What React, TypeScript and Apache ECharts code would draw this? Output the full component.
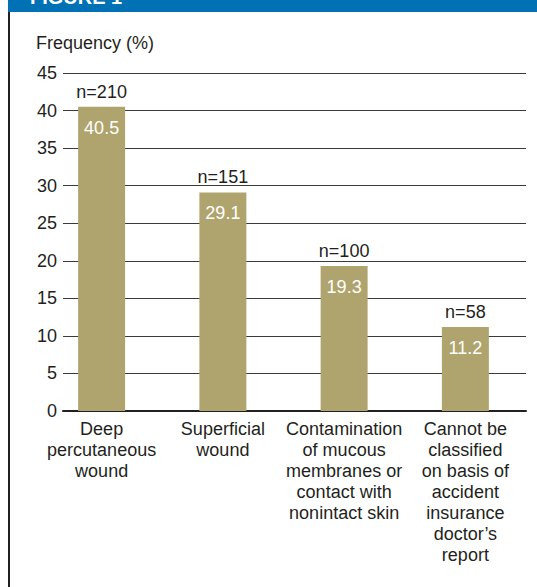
import React, { useEffect, useRef } from "react";
import * as echarts from "echarts";

const categories = [
  "Deep\npercutaneous\nwound",
  "Superficial\nwound",
  "Contamination\nof mucous\nmembranes or\ncontact with\nnonintact skin",
  "Cannot be\nclassified\non basis of\naccident\ninsurance\ndoctor’s\nreport",
];
const frequencies = [40.5, 29.1, 19.3, 11.2];
const counts = [210, 151, 100, 58];
const yMin = 0;
const yMax = 45;
const yInterval = 5;

const FONT = "'Liberation Sans', Arial, sans-serif";
const TEXT = "#231f20";

export default function App() {
  const ref = useRef<HTMLDivElement>(null);
  useEffect(() => {
    document.body.style.margin = "0";
    const chart = echarts.init(ref.current!, null, { renderer: "svg" });
    chart.setOption({
      animation: false,
      backgroundColor: "#ffffff",
      textStyle: { fontFamily: FONT },
      grid: [
        { left: 63, right: 11, top: 73, bottom: 176 },
        { left: 41, right: 11, top: 73, bottom: 176 },
      ],
      xAxis: [
        {
          type: "category",
          gridIndex: 0,
          data: categories,
          axisLine: { show: true, lineStyle: { color: TEXT, width: 2 } },
          axisTick: { show: false },
          axisLabel: { show: false },
        },
        {
          type: "category",
          gridIndex: 1,
          data: categories,
          axisLine: { show: false },
          axisTick: { show: false },
          axisLabel: {
            color: TEXT,
            fontSize: 18,
            lineHeight: 21,
            fontFamily: FONT,
            margin: 7,
            interval: 0,
            align: "center",
          },
        },
      ],
      yAxis: [
        {
          type: "value",
          gridIndex: 0,
          min: yMin,
          max: yMax,
          interval: yInterval,
          axisLine: { show: false },
          axisTick: { show: false },
          axisLabel: { color: TEXT, fontSize: 18, fontFamily: FONT, margin: 6 },
          splitLine: { show: true, lineStyle: { color: "#3a3a3a", width: 1 } },
        },
        {
          type: "value",
          gridIndex: 1,
          min: yMin,
          max: yMax,
          interval: yInterval,
          show: false,
          splitLine: { show: false },
        },
      ],
      series: [
        {
          type: "bar",
          xAxisIndex: 1,
          yAxisIndex: 1,
          data: frequencies,
          barWidth: 47,
          itemStyle: { color: "#b0a46e" },
          label: {
            show: true,
            position: "insideTop",
            distance: 12,
            color: "#ffffff",
            fontSize: 18,
            fontFamily: FONT,
            formatter: (p: any) => p.value.toFixed(1),
          },
          z: 3,
        },
        {
          type: "bar",
          xAxisIndex: 1,
          yAxisIndex: 1,
          data: frequencies,
          barWidth: 47,
          barGap: "-100%",
          itemStyle: { color: "rgba(0,0,0,0)" },
          label: {
            show: true,
            position: "top",
            distance: 6,
            color: TEXT,
            fontSize: 18,
            fontFamily: FONT,
            formatter: (p: any) => "n=" + counts[p.dataIndex],
          },
          z: 4,
        },
      ],
      graphic: [
        { type: "rect", shape: { x: 8, y: 0, width: 529, height: 12 }, style: { fill: "#0071b4" } },
        {
          type: "text",
          x: 30,
          y: 7,
          style: {
            text: "FIGURE 1",
            fill: "#ffffff",
            font: "bold 20px " + FONT,
            textVerticalAlign: "bottom",
          },
        },
        { type: "rect", shape: { x: 8, y: 12, width: 2, height: 575 }, style: { fill: TEXT } },
        {
          type: "text",
          x: 36,
          y: 43,
          style: {
            text: "Frequency (%)",
            fill: TEXT,
            font: "18px " + FONT,
            textVerticalAlign: "middle",
          },
        },
      ],
    });
    return () => chart.dispose();
  }, []);
  return <div ref={ref} style={{ position: "fixed", left: 0, top: 0, width: 537, height: 587 }} />;
}
